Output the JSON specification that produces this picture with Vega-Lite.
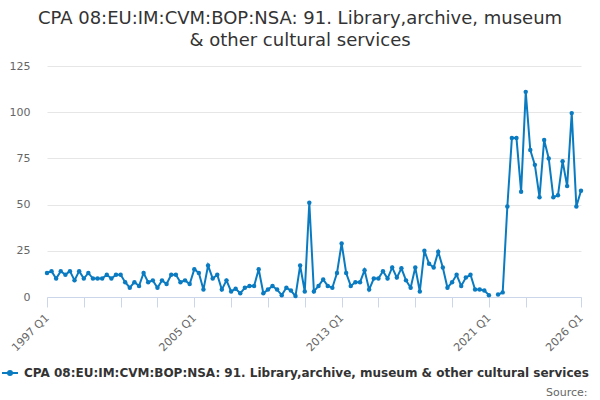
{
  "$schema": "https://vega.github.io/schema/vega-lite/v6.json",
  "autosize": "none",
  "width": 534,
  "height": 231,
  "padding": {"left": 47, "top": 66, "right": 19, "bottom": 103},
  "background": "white",
  "config": {
    "view": {"stroke": null},
    "font": "DejaVu Sans"
  },
  "title": {
    "text": ["CPA 08:EU:IM:CVM:BOP:NSA: 91. Library,archive, museum", "& other cultural services"],
    "fontSize": 18,
    "fontWeight": "normal",
    "font": "DejaVu Sans",
    "color": "#333333",
    "anchor": "middle",
    "frame": "group",
    "dx": -14,
    "offset": 10,
    "lineHeight": 22
  },
  "data": {
    "values": [
      {"date": "1997-01-01", "value": 13}, {"date": "1997-04-01", "value": 14}, {"date": "1997-07-01", "value": 10}, {"date": "1997-10-01", "value": 14},
      {"date": "1998-01-01", "value": 12}, {"date": "1998-04-01", "value": 14}, {"date": "1998-07-01", "value": 9}, {"date": "1998-10-01", "value": 14},
      {"date": "1999-01-01", "value": 10}, {"date": "1999-04-01", "value": 13}, {"date": "1999-07-01", "value": 10}, {"date": "1999-10-01", "value": 10},
      {"date": "2000-01-01", "value": 10}, {"date": "2000-04-01", "value": 12}, {"date": "2000-07-01", "value": 10}, {"date": "2000-10-01", "value": 12},
      {"date": "2001-01-01", "value": 12}, {"date": "2001-04-01", "value": 8}, {"date": "2001-07-01", "value": 5}, {"date": "2001-10-01", "value": 8},
      {"date": "2002-01-01", "value": 6}, {"date": "2002-04-01", "value": 13}, {"date": "2002-07-01", "value": 8}, {"date": "2002-10-01", "value": 9},
      {"date": "2003-01-01", "value": 5}, {"date": "2003-04-01", "value": 9}, {"date": "2003-07-01", "value": 7}, {"date": "2003-10-01", "value": 12},
      {"date": "2004-01-01", "value": 12}, {"date": "2004-04-01", "value": 8}, {"date": "2004-07-01", "value": 9}, {"date": "2004-10-01", "value": 7},
      {"date": "2005-01-01", "value": 15}, {"date": "2005-04-01", "value": 13}, {"date": "2005-07-01", "value": 4}, {"date": "2005-10-01", "value": 17},
      {"date": "2006-01-01", "value": 10}, {"date": "2006-04-01", "value": 12}, {"date": "2006-07-01", "value": 4}, {"date": "2006-10-01", "value": 9},
      {"date": "2007-01-01", "value": 3}, {"date": "2007-04-01", "value": 4.5}, {"date": "2007-07-01", "value": 2}, {"date": "2007-10-01", "value": 5},
      {"date": "2008-01-01", "value": 6}, {"date": "2008-04-01", "value": 6}, {"date": "2008-07-01", "value": 15}, {"date": "2008-10-01", "value": 2},
      {"date": "2009-01-01", "value": 4}, {"date": "2009-04-01", "value": 6}, {"date": "2009-07-01", "value": 4}, {"date": "2009-10-01", "value": 1},
      {"date": "2010-01-01", "value": 5}, {"date": "2010-04-01", "value": 3.5}, {"date": "2010-07-01", "value": 0.5}, {"date": "2010-10-01", "value": 17},
      {"date": "2011-01-01", "value": 3}, {"date": "2011-04-01", "value": 51}, {"date": "2011-07-01", "value": 3}, {"date": "2011-10-01", "value": 6},
      {"date": "2012-01-01", "value": 9.5}, {"date": "2012-04-01", "value": 6}, {"date": "2012-07-01", "value": 5}, {"date": "2012-10-01", "value": 13},
      {"date": "2013-01-01", "value": 29}, {"date": "2013-04-01", "value": 13}, {"date": "2013-07-01", "value": 6}, {"date": "2013-10-01", "value": 8},
      {"date": "2014-01-01", "value": 8}, {"date": "2014-04-01", "value": 14.5}, {"date": "2014-07-01", "value": 4}, {"date": "2014-10-01", "value": 10},
      {"date": "2015-01-01", "value": 10}, {"date": "2015-04-01", "value": 14}, {"date": "2015-07-01", "value": 10}, {"date": "2015-10-01", "value": 16},
      {"date": "2016-01-01", "value": 10.5}, {"date": "2016-04-01", "value": 15.5}, {"date": "2016-07-01", "value": 9}, {"date": "2016-10-01", "value": 5},
      {"date": "2017-01-01", "value": 16}, {"date": "2017-04-01", "value": 3}, {"date": "2017-07-01", "value": 25}, {"date": "2017-10-01", "value": 18},
      {"date": "2018-01-01", "value": 16}, {"date": "2018-04-01", "value": 24.5}, {"date": "2018-07-01", "value": 16}, {"date": "2018-10-01", "value": 5},
      {"date": "2019-01-01", "value": 8}, {"date": "2019-04-01", "value": 12}, {"date": "2019-07-01", "value": 6}, {"date": "2019-10-01", "value": 10.5},
      {"date": "2020-01-01", "value": 12}, {"date": "2020-04-01", "value": 4}, {"date": "2020-07-01", "value": 4}, {"date": "2020-10-01", "value": 3.5},
      {"date": "2021-01-01", "value": 1}, {"date": "2021-04-01", "value": null}, {"date": "2021-07-01", "value": 1.3}, {"date": "2021-10-01", "value": 2.5},
      {"date": "2022-01-01", "value": 49}, {"date": "2022-04-01", "value": 86}, {"date": "2022-07-01", "value": 86}, {"date": "2022-10-01", "value": 57},
      {"date": "2023-01-01", "value": 111}, {"date": "2023-04-01", "value": 79.5}, {"date": "2023-07-01", "value": 71.5}, {"date": "2023-10-01", "value": 54},
      {"date": "2024-01-01", "value": 85}, {"date": "2024-04-01", "value": 75}, {"date": "2024-07-01", "value": 54}, {"date": "2024-10-01", "value": 55},
      {"date": "2025-01-01", "value": 73.5}, {"date": "2025-04-01", "value": 60}, {"date": "2025-07-01", "value": 99.5}, {"date": "2025-10-01", "value": 49},
      {"date": "2026-01-01", "value": 57.5}
    ]
  },
  "mark": {
    "type": "line",
    "strokeWidth": 2,
    "invalid": "break-paths-show-domains",
    "point": {"filled": true, "size": 20}
  },
  "encoding": {
    "x": {
      "field": "date",
      "type": "temporal",
      "scale": {"type": "utc", "domain": [{"year": 1997, "month": 1, "date": 1, "utc": true}, {"year": 2026, "month": 1, "date": 1, "utc": true}], "nice": false},
      "axis": {
        "title": "Source:",
        "titleFontSize": 11,
        "titleFontWeight": "normal",
        "titleColor": "#666666",
        "titleAlign": "right",
        "titleAnchor": null,
        "titleX": 540,
        "titleY": 95,
        "titleBaseline": "middle",
        "values": [
          {"year": 1997, "month": 1, "date": 1, "utc": true},
          {"year": 1999, "month": 1, "date": 1, "utc": true},
          {"year": 2001, "month": 1, "date": 1, "utc": true},
          {"year": 2003, "month": 1, "date": 1, "utc": true},
          {"year": 2005, "month": 1, "date": 1, "utc": true},
          {"year": 2007, "month": 1, "date": 1, "utc": true},
          {"year": 2009, "month": 1, "date": 1, "utc": true},
          {"year": 2011, "month": 1, "date": 1, "utc": true},
          {"year": 2013, "month": 1, "date": 1, "utc": true},
          {"year": 2015, "month": 1, "date": 1, "utc": true},
          {"year": 2017, "month": 1, "date": 1, "utc": true},
          {"year": 2019, "month": 1, "date": 1, "utc": true},
          {"year": 2021, "month": 1, "date": 1, "utc": true},
          {"year": 2023, "month": 1, "date": 1, "utc": true},
          {"year": 2026, "month": 1, "date": 1, "utc": true}
        ],
        "labelExpr": "indexof([1997, 2005, 2013, 2021, 2026], utcyear(datum.value)) >= 0 ? utcyear(datum.value) + ' Q1' : ''",
        "labelAngle": -45,
        "labelAlign": "right",
        "labelBaseline": "middle",
        "labelPadding": 9,
        "labelFontSize": 11,
        "labelColor": "#666666",
        "labelFlush": false,
        "labelOverlap": false,
        "labelBound": false,
        "domainColor": "#ccd6eb",
        "domainWidth": 1,
        "tickColor": "#ccd6eb",
        "tickSize": 10,
        "tickWidth": 1,
        "grid": false
      }
    },
    "y": {
      "field": "value",
      "type": "quantitative",
      "scale": {"domain": [0, 125], "nice": false},
      "axis": {
        "title": null,
        "values": [0, 25, 50, 75, 100, 125],
        "domain": false,
        "ticks": false,
        "labelPadding": 17,
        "labelFontSize": 11,
        "labelColor": "#666666",
        "gridColor": "#e6e6e6",
        "gridWidth": 1
      }
    },
    "color": {
      "datum": "CPA 08:EU:IM:CVM:BOP:NSA: 91. Library,archive, museum & other cultural services",
      "type": "nominal",
      "scale": {"range": ["#0a7bc1"]},
      "legend": {
        "orient": "none",
        "legendX": -46,
        "legendY": 298,
        "title": null,
        "labelFontSize": 12,
        "labelFontWeight": "bold",
        "labelColor": "#333333",
        "labelLimit": 0,
        "symbolType": "M-1,0L1,0M-0.25,0A0.25,0.25 0 1,0 0.25,0A0.25,0.25 0 1,0 -0.25,0",
        "symbolSize": 256,
        "symbolStrokeWidth": 2,
        "symbolFillColor": "#0a7bc1",
        "labelOffset": 5
      }
    }
  }
}
